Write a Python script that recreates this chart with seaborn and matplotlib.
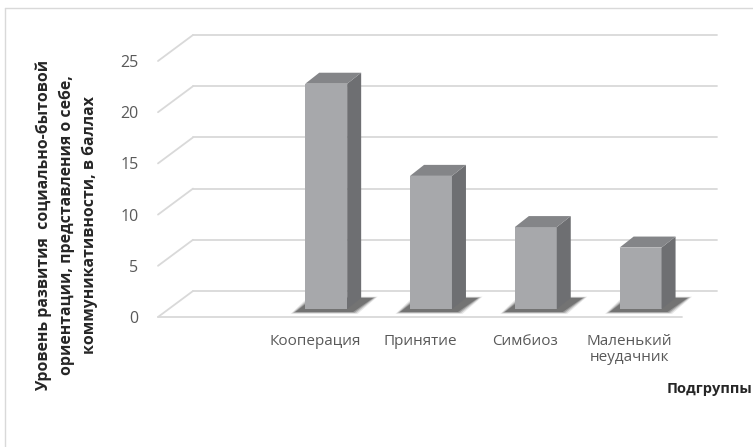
import numpy as np
import pandas as pd
import matplotlib
matplotlib.use("Agg")
import matplotlib.pyplot as plt
import matplotlib.transforms as mtransforms
from matplotlib.patches import Polygon
from matplotlib.lines import Line2D
import seaborn as sns

# ---------------- data ----------------
categories = ["Кооперация", "Принятие", "Симбиоз", "Маленький\nнеудачник"]
values = [22, 13, 8, 6]
y_ticks = [0, 5, 10, 15, 20, 25]
y_label = "Уровень развития  социально-бытовой\nориентации, представления о себе,\nкоммуникативности, в баллах"
x_label = "Подгруппы"

# ---------------- style ----------------
W, H, DPI = 753, 447, 100
FRONT = "#A7A8AB"
SIDE = "#6E6F72"
TOP = "#848588"
GRID = "#D9D9D9"
TXT = "#595959"

sns.set_theme(style="white")
plt.rcParams['font.family'] = ['Open Sans', 'DejaVu Sans']

fig = plt.figure(figsize=(W / DPI, H / DPI), dpi=DPI)
ax = fig.add_axes([158 / W, 1 - 317 / H, 524 / W, 256 / H])
ax.set_facecolor("none")

df = pd.DataFrame({"cat": categories, "val": values})
sns.barplot(data=df, x="cat", y="val", color=FRONT, width=0.4, saturation=1,
            ax=ax, zorder=5, linewidth=0)
ax.set_xlim(-1.5, 3.5)
ax.set_ylim(0, 25)
for s in ax.spines.values():
    s.set_visible(False)
ax.set_xlabel("")
ax.set_ylabel("")
ax.set_yticks(y_ticks)
ax.tick_params(axis="y", length=0, pad=14, labelsize=11.5, labelcolor=TXT)
ax.tick_params(axis="x", length=0, pad=12, labelsize=11, labelcolor=TXT)
for t in ax.get_xticklabels():
    t.set_linespacing(1.15)

# 3D geometry (display pixel offsets)
BACK = (35, 26)     # back wall offset from front plane
BAR_OFF = (11, 8)   # bar front face offset from front plane
DEPTH = (14, 11)    # bar depth

ident = mtransforms.IdentityTransform()
back_tr = mtransforms.offset_copy(ax.transData, fig=fig, x=BACK[0], y=BACK[1], units="dots")
x0, x1 = ax.get_xlim()

# back wall gridlines + left diagonals
for v in y_ticks:
    ax.add_line(Line2D([x0, x1], [v, v], transform=back_tr, color=GRID, lw=1.3,
                       clip_on=False, zorder=1))
    p = ax.transData.transform((x0, v))
    ax.add_line(Line2D([p[0], p[0] + BACK[0]], [p[1], p[1] + BACK[1]], transform=ident,
                       color=GRID, lw=1.3, clip_on=False, zorder=1))
# floor front line
ax.add_line(Line2D([x0, x1], [0, 0], transform=ax.transData, color=GRID, lw=1.3,
                   clip_on=False, zorder=1))

bar_tr = mtransforms.offset_copy(ax.transData, fig=fig, x=BAR_OFF[0], y=BAR_OFF[1], units="dots")
for p in list(ax.patches):
    p.set_transform(bar_tr)
    bx, by, bw, bh = p.get_x(), p.get_y(), p.get_width(), p.get_height()
    BL, BR, TR, TL = bar_tr.transform([(bx, by), (bx + bw, by), (bx + bw, by + bh), (bx, by + bh)])
    d = np.array(DEPTH)
    # soft shadow on the floor
    for k, a in enumerate([0.12, 0.2, 0.3, 0.4]):
        g = 4.5 - 1.5 * k
        sh = [BL + (-10 - g, -3 - g * 0.4), BR + (6 + g, -3 - g * 0.4),
              BR + (26 + g, 11 + g * 0.3), BL + (8 - g, 11 + g * 0.3)]
        ax.add_patch(Polygon(sh, closed=True, transform=ident, facecolor="#3A3A3A",
                             edgecolor="none", alpha=a, zorder=3, clip_on=False))
    ax.add_patch(Polygon([BR, TR, TR + d, BR + d], closed=True, transform=ident,
                         facecolor=SIDE, edgecolor="none", zorder=5, clip_on=False))
    ax.add_patch(Polygon([TL, TR, TR + d, TL + d], closed=True, transform=ident,
                         facecolor=TOP, edgecolor="none", zorder=5, clip_on=False))

# axis titles
fig.text(67 / W, 1 - 225 / H, y_label, rotation=90, ha="center", va="center",
         fontsize=11.4, fontweight="bold", color="#262626", linespacing=1.55,
         multialignment="center")
fig.text(667 / W, 1 - 389 / H, x_label, ha="left", va="center",
         fontsize=10.5, fontweight="bold", color="#262626")

# outer frame
fig.add_artist(Line2D([5 / W, 5 / W], [0, 1 - 8 / H], transform=fig.transFigure, color=GRID, lw=1))
fig.add_artist(Line2D([5 / W, 1], [1 - 8 / H, 1 - 8 / H], transform=fig.transFigure, color=GRID, lw=1))

fig.savefig("out.png", dpi=DPI, facecolor="white")
